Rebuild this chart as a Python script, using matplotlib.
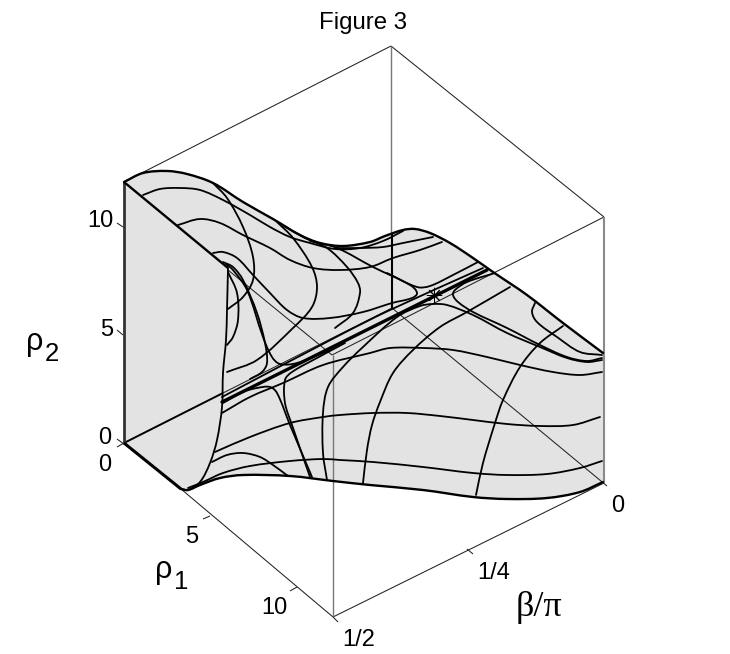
import math
import matplotlib
matplotlib.use('Agg')
from matplotlib import pyplot as plt
from matplotlib.path import Path
from matplotlib.patches import PathPatch, Polygon

top_edge = [(124,182),(143,173),(167,171),(187,174),(213,183),(243,202),(273,219),(300,235),(320,243),(343,246),
            (370,242),(385,236),(403,230),(415,229),(430,233),(450,243),(473,258),(493,272),(527,295),(563,323),(603,353)]
bottom_edge = [(603,482),(580,492),(547,498),(507,499),(473,497),(423,490),(370,485),(333,481),(290,476),(243,475),
               (220,478),(200,485),(188,490),(181,489)]
front_edge = [(181,489),(188,490),(200,482),(210,463),(217,440),(222,407),(223,373),(226,340),(227,310),(228,268)]
diagonal = [(124,182),(228,268)]

contours = [
    [(143,195),(160,189),(180,188),(200,190),(223,200),(250,215),(270,227),(290,237),(310,243),(335,249),(360,248),(383,241),(403,231)],
    [(178,225),(200,219),(220,223),(243,235),(270,248),(290,260),(313,268),(340,270),(370,267),(393,258),(420,250),(442,242)],
    [(335,248),(360,248),(383,247),(403,243),(433,237)],
    [(213,183),(227,198),(243,227),(253,257),(253,280),(243,297),(228,309)],
    [(276,221),(293,238),(312,267),(317,287),(312,307),(293,328),(257,360),(227,372)],
    [(213,253),(223,252),(237,258),(253,275),(270,293),(287,310),(303,318),(330,318),(363,312),(392,303),(412,298),(417,293),(410,285),(373,267),(337,248),(310,241)],
    [(284,226),(305,238),(327,248),(347,267),(358,283),(360,293),(353,313),(335,328)],
    [(387,273),(417,287),(430,286),(453,275),(478,262)],
    [(327,480),(323,453),(323,413),(328,387),(343,367),(363,347),(397,317),(420,306),(433,304),(447,305),(473,315),(507,333),(540,347),(567,358),(587,362),(602,360)],
    [(495,273),(467,282),(455,290),(453,295),(458,302),(473,312),(507,328),(540,345),(567,357),(587,361),(602,358)],
    [(602,355),(580,352),(557,337),(537,322),(532,312),(535,303)],
    [(510,287),(467,312),(440,327),(413,350),(393,373),(380,402),(372,425),(367,450),(363,483)],
    [(563,326),(540,343),(520,367),(503,400),(495,423),(483,463),(476,495)],
    [(602,372),(580,375),(553,372),(520,365),(487,357),(453,350),(423,348),(390,348),(370,353),(323,365),(283,383),(250,397),(222,413)],
    [(600,417),(573,425),(540,426),(507,424),(473,420),(440,416),(407,413),(373,413),(340,415),(323,417),(290,423),(250,437),(215,452)],
    [(602,461),(580,468),(547,474),(507,475),(473,473),(423,467),(373,462),(340,460),(323,459),(290,461),(250,466),(223,473),(203,482),(188,488)],
    [(212,462),(227,455),(243,453),(260,457),(273,465),(288,476)],
    [(312,477),(290,425),(277,393),(270,387),(257,388),(243,392),(223,403)],
    [(310,477),(292,425),(285,403),(285,380),(292,372),(317,358),(345,343)],
    [(223,262),(233,267),(243,280),(257,313),(265,343),(267,363),(262,372),(250,379)],
    [(226,264),(233,270),(247,290),(263,337),(272,357),(280,364),(297,363),(330,350)],
    [(228,272),(237,293),(238,320),(233,337),(227,345)],
    [(222,397),(340,335),(390,310),(483,268)],
]
thick_band = [(222,402),(487,270)]

thin_frame = [
    [(124,182),(391,46)],[(391,46),(604,217)],[(604,217),(332,355)],
    [(228,270),(332,355)],[(392,308),(607,486)],[(392,308),(223,393)],
    [(181,489),(333,617)],[(333,617),(604,483)],
]
gray_frame = [[(391,46),(391,234)],[(333,355),(333,617)]]
tick_marks = [
    [(117,223),(123,227)],[(117,330),(123,335)],[(117,439),(124,444)],[(117,447),(124,443)],
    [(203,519),(210,516)],[(290,591),(297,587)],[(333,617),(338,622)],[(467,549),(473,554)],
]
tick_labels = [('10',100,221),('5',107,330),('0',105,438),('0',105,465),('5',192,537),('10',274,608),
               ('1/2',359,640),('1/4',494,573),('0',618,506)]
saddle_point = (434,295)


def smooth(points):
    # bezier through the read points, handles scaled to each segment, only to avoid corners
    verts = [points[0]]
    codes = [Path.MOVETO]
    def tangent(i):
        a = points[max(i - 1, 0)]
        b = points[min(i + 1, len(points) - 1)]
        d = math.hypot(b[0] - a[0], b[1] - a[1])
        return (b[0] - a[0]) / d, (b[1] - a[1]) / d
    for i in range(len(points) - 1):
        p1 = points[i]
        p2 = points[i + 1]
        seg = math.hypot(p2[0] - p1[0], p2[1] - p1[1]) / 3
        t1 = tangent(i)
        t2 = tangent(i + 1)
        verts.append((p1[0] + t1[0] * seg, p1[1] + t1[1] * seg))
        verts.append((p2[0] - t2[0] * seg, p2[1] - t2[1] * seg))
        verts.append(p2)
        codes += [Path.CURVE4, Path.CURVE4, Path.CURVE4]
    return Path(verts, codes)


def flat(points):
    return smooth(points).to_polygons(closed_only=False)[0].tolist()


def draw_curve(ax, points, lw, color='black', z=3):
    ax.add_patch(PathPatch(smooth(points), fill=False, lw=lw, edgecolor=color, zorder=z, capstyle='round'))


def draw_line(ax, points, lw, color='black', z=2):
    xs = [p[0] for p in points]
    ys = [p[1] for p in points]
    ax.plot(xs, ys, color=color, lw=lw, zorder=z, solid_capstyle='butt')


fig = plt.figure(figsize=(7.3, 6.54), dpi=100)
ax = fig.add_axes([0, 0, 1, 1])
ax.set_xlim(0, 730)
ax.set_ylim(654, 0)
ax.axis('off')

# surface and left face
ax.add_patch(Polygon(flat(top_edge) + flat(bottom_edge), facecolor='#e3e3e3', edgecolor='none', zorder=1))
ax.add_patch(Polygon(flat(front_edge) + [(124,182),(124,443)], facecolor='#e3e3e3', edgecolor='none', zorder=1))

for seg in thin_frame:
    draw_line(ax, seg, 0.75, '#222222')
for seg in gray_frame:
    draw_line(ax, seg, 1.0, '#777777')
for seg in tick_marks:
    draw_line(ax, seg, 0.75, '#222222')
draw_line(ax, [(604,217),(604,483)], 1.5, '#8a8a8a')
draw_line(ax, [(392,234),(392,308)], 1.5, 'black', 3)
draw_line(ax, [(124,443),(223,393)], 1.4, 'black', 3)
draw_line(ax, [(124,182),(124,443)], 2.0, '#333333', 3)
draw_line(ax, [(124,443),(181,489)], 2.2, 'black', 3)
draw_line(ax, diagonal, 1.7, 'black', 3)

draw_curve(ax, top_edge, 1.7)
draw_curve(ax, bottom_edge, 1.7)
draw_curve(ax, front_edge, 1.3)
for c in contours:
    draw_curve(ax, c, 1.3)
draw_curve(ax, thick_band, 2.4)

ax.plot([saddle_point[0]], [saddle_point[1]], marker=(8, 2, 0), ms=11, mew=0.7, color='black', zorder=5)

font = 'Liberation Sans'
ax.text(363, 23, 'Figure 3', family=font, fontsize=17.3, ha='center', va='center')
for label, x, y in tick_labels:
    ax.text(x, y, label, family=font, fontsize=17, ha='center', va='center')

ax.text(35, 342, 'ρ', family=font, fontsize=22, ha='center', va='center')
ax.text(52, 354, '2', family=font, fontsize=18.5, ha='center', va='center')
ax.text(164, 570, 'ρ', family=font, fontsize=22, ha='center', va='center')
ax.text(181, 582, '1', family=font, fontsize=18.5, ha='center', va='center')
ax.text(539, 608, 'β/π', family='Liberation Serif', fontsize=26, ha='center', va='center')

fig.savefig('out.png', dpi=100)
